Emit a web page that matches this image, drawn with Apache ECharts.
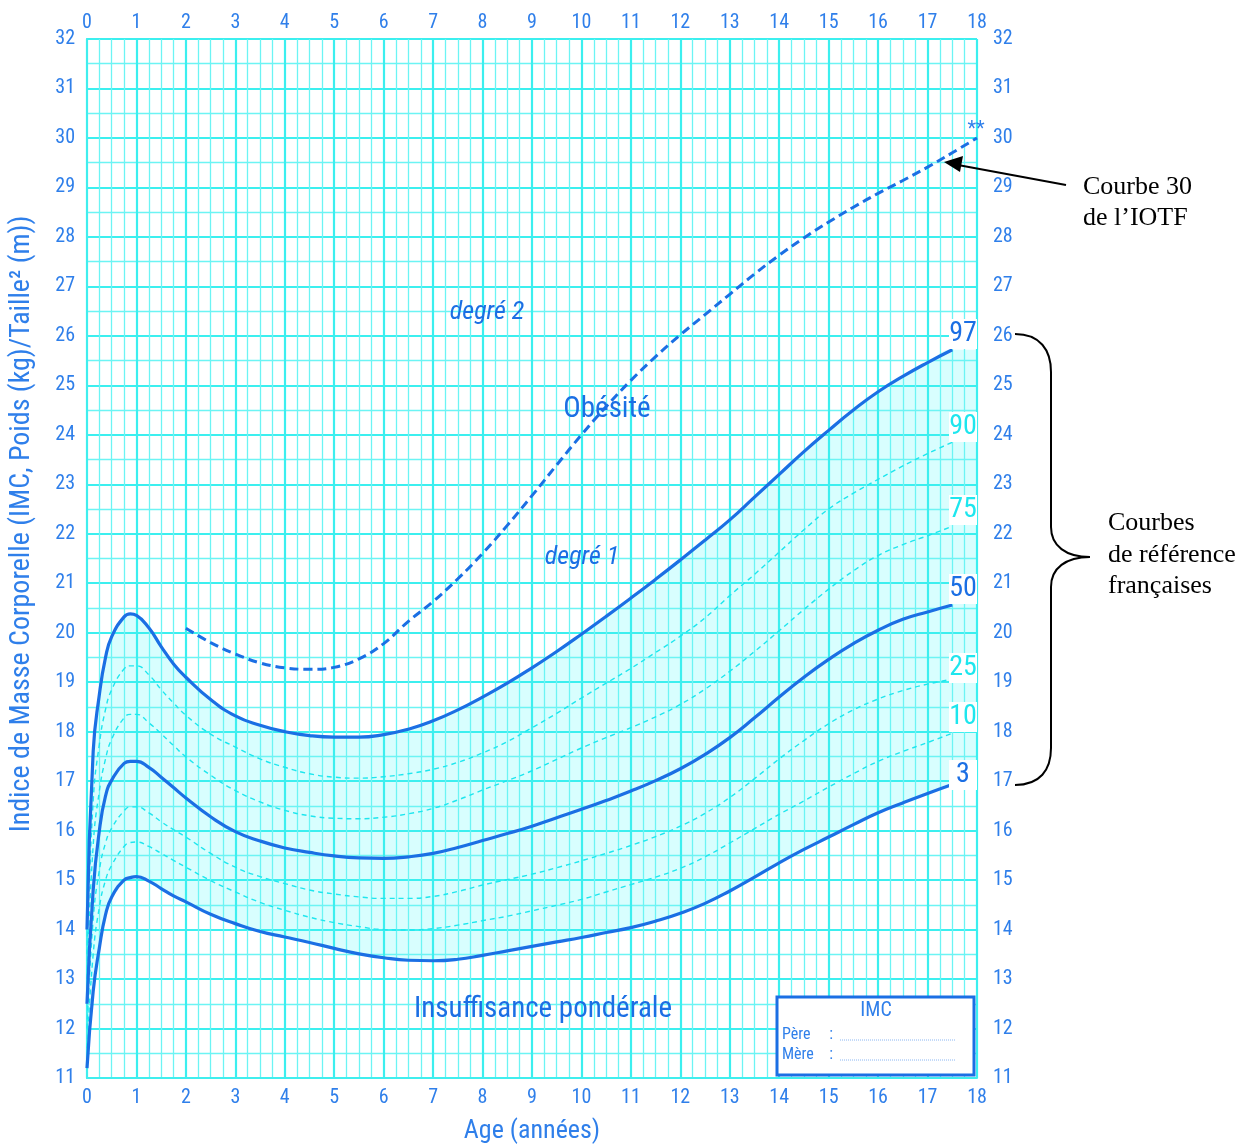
<!DOCTYPE html>
<html><head><meta charset="utf-8">
<script src="https://cdn.jsdelivr.net/npm/echarts@6/dist/echarts.min.js"></script>
<style>html,body{margin:0;padding:0;background:#fff}#c{width:1244px;height:1144px}</style>
</head><body><div id="c"></div>
<script>
// ---- DATA ----
const ages = [0, 0.125, 0.25, 0.375, 0.5, 0.75, 0.875, 1, 1.25, 1.5, 1.75, 2, 2.5, 3, 3.5, 4, 4.5, 5, 5.5, 6, 6.5, 7, 7.5, 8, 8.5, 9, 9.5, 10, 10.5, 11, 11.5, 12, 12.5, 13, 13.5, 14, 14.5, 15, 15.5, 16, 16.5, 17, 17.5];
const p97 = [14.0, 17.6, 18.75, 19.5, 19.92, 20.32, 20.38, 20.35, 20.1, 19.72, 19.37, 19.1, 18.65, 18.32, 18.13, 18.0, 17.92, 17.89, 17.89, 17.94, 18.05, 18.22, 18.44, 18.70, 18.98, 19.29, 19.62, 19.97, 20.33, 20.70, 21.08, 21.47, 21.87, 22.28, 22.74, 23.20, 23.66, 24.09, 24.50, 24.87, 25.18, 25.46, 25.72];
const p90 = [13.5, 16.6, 17.75, 18.45, 18.85, 19.27, 19.33, 19.33, 19.15, 18.85, 18.58, 18.33, 17.95, 17.69, 17.45, 17.28, 17.15, 17.08, 17.06, 17.09, 17.15, 17.24, 17.38, 17.57, 17.80, 18.08, 18.37, 18.68, 18.98, 19.28, 19.60, 19.93, 20.30, 20.75, 21.18, 21.63, 22.08, 22.50, 22.82, 23.10, 23.37, 23.62, 23.85];
const p75 = [13.0, 15.7, 16.8, 17.45, 17.85, 18.28, 18.35, 18.35, 18.18, 17.96, 17.72, 17.49, 17.12, 16.81, 16.58, 16.41, 16.30, 16.25, 16.24, 16.27, 16.34, 16.45, 16.62, 16.82, 17.01, 17.21, 17.44, 17.67, 17.88, 18.08, 18.30, 18.55, 18.86, 19.22, 19.62, 20.04, 20.47, 20.88, 21.25, 21.56, 21.78, 21.96, 22.15];
const p50 = [12.5, 14.8, 16.0, 16.7, 17.02, 17.36, 17.40, 17.40, 17.28, 17.08, 16.87, 16.66, 16.28, 15.98, 15.79, 15.65, 15.56, 15.49, 15.45, 15.44, 15.47, 15.54, 15.66, 15.80, 15.94, 16.09, 16.26, 16.43, 16.61, 16.80, 17.01, 17.25, 17.54, 17.88, 18.28, 18.70, 19.10, 19.46, 19.78, 20.05, 20.27, 20.42, 20.56];
const p25 = [12.0, 14.2, 15.2, 15.75, 16.05, 16.40, 16.48, 16.48, 16.36, 16.18, 16.02, 15.87, 15.54, 15.26, 15.07, 14.93, 14.80, 14.72, 14.66, 14.63, 14.63, 14.67, 14.77, 14.90, 15.01, 15.12, 15.25, 15.39, 15.54, 15.70, 15.88, 16.09, 16.35, 16.67, 17.05, 17.45, 17.82, 18.16, 18.44, 18.66, 18.83, 18.96, 19.06];
const p10 = [11.6, 13.5, 14.45, 15.0, 15.3, 15.68, 15.76, 15.77, 15.68, 15.54, 15.40, 15.26, 14.99, 14.76, 14.55, 14.39, 14.25, 14.14, 14.06, 14.00, 13.99, 14.02, 14.09, 14.18, 14.27, 14.38, 14.49, 14.61, 14.76, 14.91, 15.06, 15.24, 15.47, 15.75, 16.04, 16.33, 16.60, 16.88, 17.15, 17.40, 17.60, 17.78, 17.97];
const p3 = [11.2, 12.75, 13.63, 14.3, 14.66, 15.0, 15.05, 15.07, 14.98, 14.83, 14.68, 14.56, 14.31, 14.12, 13.96, 13.85, 13.74, 13.62, 13.51, 13.43, 13.38, 13.37, 13.40, 13.48, 13.57, 13.66, 13.75, 13.84, 13.94, 14.04, 14.17, 14.33, 14.53, 14.78, 15.06, 15.35, 15.62, 15.87, 16.12, 16.36, 16.56, 16.75, 16.93];
const iotfAges = [2, 2.5, 3, 3.5, 4, 4.5, 5, 5.5, 6, 6.5, 7, 7.5, 8, 8.5, 9, 9.5, 10, 10.5, 11, 11.5, 12, 12.5, 13, 13.5, 14, 14.5, 15, 15.5, 16, 16.5, 17, 17.5, 18];
const iotf30 = [20.09, 19.80, 19.57, 19.39, 19.29, 19.26, 19.30, 19.47, 19.78, 20.23, 20.63, 21.09, 21.60, 22.17, 22.77, 23.39, 24.00, 24.57, 25.10, 25.58, 26.02, 26.43, 26.84, 27.25, 27.63, 27.98, 28.30, 28.60, 28.88, 29.14, 29.41, 29.70, 30.00];
const percentileNames = ['97', '90', '75', '50', '25', '10', '3'];
const xMin = 0, xMax = 18, yMin = 11, yMax = 32;

// ---- STYLE ----
const BLUE = '#1b6fe4';
const CYAN = '#1ee6ee';
const AXIS = '#2f7fea';
const NARROW = '"Liberation Sans Narrow","Roboto Condensed","Arial Narrow",Roboto,sans-serif';
const pts = (xs, ys) => xs.map((x, i) => [x, ys[i]]);
const last = a => a[a.length - 1];
const SM = 0.5;

const solid = (name, ys) => ({
  name, type: 'line', data: pts(ages, ys), smooth: SM, symbol: 'none', silent: true, z: 5,
  lineStyle: { color: BLUE, width: 3.2 }
});
const dashed = (name, ys) => ({
  name, type: 'line', data: pts(ages, ys), smooth: SM, symbol: 'none', silent: true, z: 4,
  lineStyle: { color: CYAN, width: 1.4, type: [5, 4] }
});
const fill = (name, ys, color, z) => ({
  name, type: 'line', data: pts(ages, ys).concat([[xMax, last(ys)]]), smooth: SM, symbol: 'none', silent: true, z,
  lineStyle: { opacity: 0, width: 0 }, areaStyle: { color, opacity: 1 }
});

const chart = echarts.init(document.getElementById('c'));
const axisLabel = { color: AXIS, fontSize: 20, fontFamily: NARROW };
const hidden = { show: false };
chart.setOption({
  animation: false,
  backgroundColor: '#fff',
  grid: { left: 87, top: 39, right: 267, bottom: 66, outerBoundsMode: 'none', containLabel: false },
  xAxis: [
    { type: 'value', min: xMin, max: xMax, interval: 1, position: 'bottom', z: 3,
      axisLine: { lineStyle: { color: '#40eeee', width: 2 } }, axisTick: hidden,
      axisLabel: { ...axisLabel, margin: 10 },
      splitLine: { lineStyle: { color: '#3cefef', width: 2.2 } },
      minorTick: { show: false, splitNumber: 4 },
      minorSplitLine: { show: true, lineStyle: { color: '#6cf4f4', width: 1.3 } },
      name: 'Age (années)', nameLocation: 'middle', nameGap: 40,
      nameTextStyle: { color: AXIS, fontSize: 26, fontFamily: NARROW } },
    { type: 'value', min: xMin, max: xMax, interval: 1, position: 'top', z: 3,
      axisLine: hidden, axisTick: hidden, splitLine: hidden,
      axisLabel: { ...axisLabel, margin: 6 } }
  ],
  yAxis: [
    { type: 'value', min: yMin, max: yMax, interval: 1, position: 'left', z: 3,
      axisLine: { show: true, lineStyle: { color: '#40eeee', width: 2 } }, axisTick: hidden,
      axisLabel: { ...axisLabel, margin: 12 },
      splitLine: { lineStyle: { color: '#3cefef', width: 2.2 } },
      minorTick: { show: false, splitNumber: 2 },
      minorSplitLine: { show: true, lineStyle: { color: '#6cf4f4', width: 1.3 } } },
    { type: 'value', min: yMin, max: yMax, interval: 1, position: 'right', z: 3,
      axisLine: { show: true, lineStyle: { color: '#40eeee', width: 2 } }, axisTick: hidden, splitLine: hidden,
      axisLabel: { ...axisLabel, margin: 16 } }
  ],
  series: [
    fill('fill97', p97, '#d8fefe', 0),
    fill('fill3', p3, '#ffffff', 1),
    dashed('P90', p90), dashed('P75', p75), dashed('P25', p25), dashed('P10', p10),
    solid('P97', p97), solid('P50', p50), solid('P3', p3),
    { name: 'IOTF 30', type: 'line', data: pts(iotfAges, iotf30), smooth: 0.4, symbol: 'none', silent: true, z: 6,
      lineStyle: { color: BLUE, width: 3, type: [9, 5] } }
  ]
});

// ---- ANNOTATIONS ----
const labelPos = [[963, 334], [963, 427], [963, 510], [963, 589], [963, 668], [963, 717], [963, 775]];
const labelColor = [BLUE, CYAN, CYAN, BLUE, CYAN, CYAN, BLUE];
const g = [];
percentileNames.forEach((n, i) => {
  g.push({ type: 'rect', shape: { x: 949, y: labelPos[i][1] - 15, width: 28, height: 30 }, style: { fill: '#fff' }, z: 50 });
  g.push({ type: 'text', x: labelPos[i][0], y: labelPos[i][1], z: 51,
    style: { text: n, fill: labelColor[i], font: '28px ' + NARROW, textAlign: 'center', textVerticalAlign: 'middle' } });
});
const txt = (text, x, y, font, fill, extra) => ({ type: 'text', x, y, z: 60,
  style: Object.assign({ text, font, fill, textAlign: 'center', textVerticalAlign: 'middle' }, extra || {}) });
g.push(txt('degré 2', 487, 312, 'italic 26px ' + NARROW, BLUE));
g.push(txt('Obésité', 607, 410, '29px ' + NARROW, BLUE));
g.push(txt('degré 1', 582, 557, 'italic 26px ' + NARROW, BLUE));
g.push(txt('Insuffisance pondérale', 543, 1010, '29px ' + NARROW, BLUE));
g.push(txt('**', 976, 130, '20px ' + NARROW, AXIS));
g.push({ type: 'text', x: 22, y: 524, rotation: Math.PI / 2, z: 60,
  style: { text: 'Indice de Masse Corporelle (IMC, Poids (kg)/Taille² (m))', font: '28px ' + NARROW, fill: AXIS,
    textAlign: 'center', textVerticalAlign: 'middle' } });
// IMC box
g.push({ type: 'rect', shape: { x: 777, y: 997, width: 197, height: 78 }, style: { fill: '#fff', stroke: BLUE, lineWidth: 3 }, z: 60 });
g.push(txt('IMC', 876, 1011, '20px ' + NARROW, AXIS));
g.push(txt('Père', 782, 1035, '16px ' + NARROW, AXIS, { textAlign: 'left' }));
g.push(txt('Mère', 782, 1055, '16px ' + NARROW, AXIS, { textAlign: 'left' }));
g.push(txt(':', 831, 1035, '16px ' + NARROW, AXIS));
g.push(txt(':', 831, 1055, '16px ' + NARROW, AXIS));
g.push({ type: 'line', shape: { x1: 840, y1: 1040, x2: 955, y2: 1040 }, style: { stroke: '#8ab6f2', lineWidth: 1, lineDash: [1, 1] }, z: 61 });
g.push({ type: 'line', shape: { x1: 840, y1: 1060, x2: 955, y2: 1060 }, style: { stroke: '#8ab6f2', lineWidth: 1, lineDash: [1, 1] }, z: 61 });
// black annotations
const SERIF = '"Liberation Serif","Times New Roman",serif';
g.push(txt('Courbe 30', 1083, 187, '26px ' + SERIF, '#000', { textAlign: 'left' }));
g.push(txt('de l’IOTF', 1083, 218, '26px ' + SERIF, '#000', { textAlign: 'left' }));
g.push(txt('Courbes', 1108, 523, '26px ' + SERIF, '#000', { textAlign: 'left' }));
g.push(txt('de référence', 1108, 555, '26px ' + SERIF, '#000', { textAlign: 'left' }));
g.push(txt('françaises', 1108, 586, '26px ' + SERIF, '#000', { textAlign: 'left' }));
g.push({ type: 'line', shape: { x1: 1066, y1: 185, x2: 958, y2: 165 }, style: { stroke: '#000', lineWidth: 2 }, z: 62 });
g.push({ type: 'polygon', shape: { points: [[944, 162], [963, 156], [960, 172]] }, style: { fill: '#000' }, z: 62 });
const bz = (x1, y1, cpx1, cpy1, cpx2, cpy2, x2, y2) => ({ type: 'bezierCurve', z: 62,
  shape: { x1, y1, cpx1, cpy1, cpx2, cpy2, x2, y2 }, style: { fill: 'none', stroke: '#000', lineWidth: 2 } });
const ln = (x1, y1, x2, y2) => ({ type: 'line', z: 62, shape: { x1, y1, x2, y2 }, style: { stroke: '#000', lineWidth: 2 } });
g.push(bz(1015, 334, 1040, 334, 1051, 350, 1051, 372));
g.push(ln(1051, 372, 1051, 527));
g.push(bz(1051, 527, 1051, 546, 1066, 557, 1090, 557));
g.push(bz(1090, 557, 1066, 557, 1051, 568, 1051, 587));
g.push(ln(1051, 587, 1051, 748));
g.push(bz(1051, 748, 1051, 770, 1040, 785, 1015, 785));
chart.setOption({ graphic: { elements: g } });
</script>
</body></html>
